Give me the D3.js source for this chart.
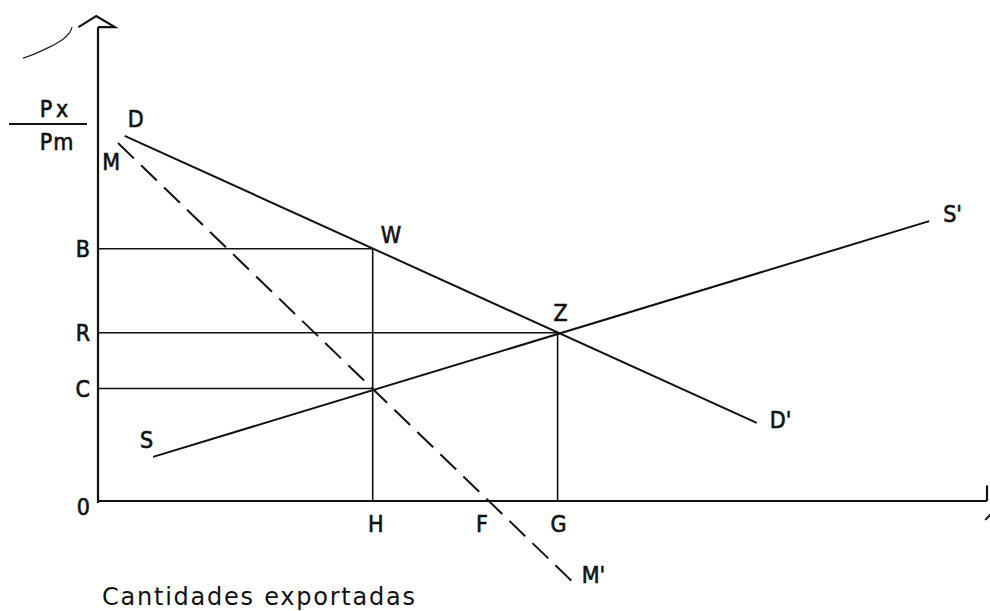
<!DOCTYPE html>
<html>
<head>
<meta charset="utf-8">
<script src="https://cdn.jsdelivr.net/npm/d3@7"></script>
<style>
  body { margin: 0; background: #fff; }
  .lbl { font-family: "DejaVu Sans Condensed", "DejaVu Sans", sans-serif; font-stretch: condensed; font-size: 23px; fill: #111; stroke: #111; stroke-width: 0.6px; }
</style>
</head>
<body>
<div id="chart"></div>
<script>
// curves (x = cantidades 0-100, y = Px/Pm 0-100)
const demand = [[3.0, 75.3], [74.1, 16.1]]; // D -> D'
const supply = [[6.2, 9.1], [93.5, 57.7]]; // S -> S'
const shifted = [[2.25, 73.8], [53.4, -16.7]]; // M -> M' (dashed)

// price levels on the vertical axis
const priceNames = ["B", "R", "C", "0"];
const priceValues = [52.0, 34.7, 23.2, 0];

// quantity levels on the horizontal axis
const qtyNames = ["H", "F", "G"];
const qtyValues = [30.9, 44.1, 51.7];

// hand drawn bits near the axes
const squiggle = [[-8.44, 91.3], [-7.31, 92.0], [-5.4, 93.6], [-3.94, 95.05], [-3.15, 96.5], [-2.92, 97.7]];

const width = 990,
  height = 611;

const svg = d3
  .select("#chart")
  .append("svg")
  .attr("width", width)
  .attr("height", height);

const x = d3.scaleLinear().domain([0, 100]).range([98, 987]);
const y = d3.scaleLinear().domain([0, 100]).range([501, 16]);

const line = d3
  .line()
  .x((d) => x(d[0]))
  .y((d) => y(d[1]));

// axes
svg
  .append("line")
  .attr("x1", x(0))
  .attr("x2", x(0))
  .attr("y1", y(97.7))
  .attr("y2", y(-0.4))
  .attr("stroke", "#111")
  .attr("stroke-width", 2.2);
svg
  .append("line")
  .attr("x1", x(0))
  .attr("x2", x(100))
  .attr("y1", y(0))
  .attr("y2", y(0))
  .attr("stroke", "#111")
  .attr("stroke-width", 2.2);

// arrow heads
svg
  .append("path")
  .attr("d", line([[-2.2, 97.7], [-0.2, 100], [1.9, 97.7], [0, 97.7]]))
  .attr("fill", "none")
  .attr("stroke", "#111")
  .attr("stroke-width", 2.2);
svg
  .append("path")
  .attr("d", line([[100, 0], [100, 3.2]]))
  .attr("fill", "none")
  .attr("stroke", "#111")
  .attr("stroke-width", 2.2);
svg
  .append("path")
  .attr("d", line([[99.8, -3.9], [100.6, -2.4]]))
  .attr("fill", "none")
  .attr("stroke", "#111")
  .attr("stroke-width", 2);

svg
  .append("path")
  .attr("d", d3.line().x((d) => x(d[0])).y((d) => y(d[1])).curve(d3.curveBasis)(squiggle))
  .attr("fill", "none")
  .attr("stroke", "#222")
  .attr("stroke-width", 1.3);

// guide lines: price level across to the curve, quantity level down to the axis
const guides = [
  [qtyValues[0], priceValues[0]],
  [qtyValues[2], priceValues[1]],
  [qtyValues[0], priceValues[2]],
];
svg
  .append("g")
  .selectAll("line.h")
  .data(guides)
  .join("line")
  .attr("x1", x(0))
  .attr("x2", (d) => x(d[0]))
  .attr("y1", (d) => y(d[1]))
  .attr("y2", (d) => y(d[1]))
  .attr("stroke", "#111")
  .attr("stroke-width", 1.6);
svg
  .append("g")
  .selectAll("line.v")
  .data([guides[0], guides[1]])
  .join("line")
  .attr("x1", (d) => x(d[0]))
  .attr("x2", (d) => x(d[0]))
  .attr("y1", (d) => y(d[1]))
  .attr("y2", y(0))
  .attr("stroke", "#111")
  .attr("stroke-width", 1.6);

// curves
svg
  .append("path")
  .attr("d", line(demand))
  .attr("fill", "none")
  .attr("stroke", "#111")
  .attr("stroke-width", 2);
svg
  .append("path")
  .attr("d", line(supply))
  .attr("fill", "none")
  .attr("stroke", "#111")
  .attr("stroke-width", 2);
svg
  .append("path")
  .attr("d", line(shifted))
  .attr("fill", "none")
  .attr("stroke", "#111")
  .attr("stroke-width", 2)
  .attr("stroke-dasharray", "22,10");

// curve end labels
const ends = [
  { t: "D", p: demand[0], dx: 3, dy: -9, a: "start" },
  { t: "D'", p: demand[1], dx: 13, dy: 5, a: "start" },
  { t: "S", p: supply[0], dx: 0, dy: -9, a: "end" },
  { t: "S'", p: supply[1], dx: 14, dy: 1, a: "start" },
  { t: "M", p: shifted[0], dx: 2, dy: 27, a: "end" },
  { t: "M'", p: shifted[1], dx: 9, dy: 1, a: "start" },
  { t: "W", p: guides[0], dx: 8, dy: -6, a: "start" },
  { t: "Z", p: guides[1], dx: -4, dy: -12, a: "start" },
];
svg
  .append("g")
  .selectAll("text")
  .data(ends)
  .join("text")
  .attr("class", "lbl")
  .attr("x", (d) => x(d.p[0]) + d.dx)
  .attr("y", (d) => y(d.p[1]) + d.dy)
  .attr("text-anchor", (d) => d.a)
  .text((d) => d.t);

// vertical axis letters
svg
  .append("g")
  .selectAll("text")
  .data(priceValues)
  .join("text")
  .attr("class", "lbl")
  .attr("x", x(0) - 8)
  .attr("y", (d, i) => y(d) + (i === 3 ? 14 : 8.5))
  .attr("text-anchor", "end")
  .text((d, i) => priceNames[i]);

// horizontal axis letters
const qtyShift = [3, -8, 1];
svg
  .append("g")
  .selectAll("text")
  .data(qtyValues)
  .join("text")
  .attr("class", "lbl")
  .attr("x", (d, i) => x(d) + qtyShift[i])
  .attr("y", y(0) + 31)
  .attr("text-anchor", "middle")
  .text((d, i) => qtyNames[i]);

// axis titles
svg
  .append("text")
  .attr("class", "lbl")
  .attr("x", 56)
  .attr("y", 117)
  .attr("text-anchor", "middle")
  .attr("letter-spacing", 4)
  .text("Px");
svg
  .append("line")
  .attr("x1", 9)
  .attr("x2", 87)
  .attr("y1", 124)
  .attr("y2", 124)
  .attr("stroke", "#111")
  .attr("stroke-width", 2);
svg
  .append("text")
  .attr("class", "lbl")
  .attr("x", 57)
  .attr("y", 150)
  .attr("text-anchor", "middle")
  .attr("letter-spacing", 1)
  .text("Pm");

svg
  .append("text")
  .attr("x", 102)
  .attr("y", 605)
  .attr("textLength", 313)
  .attr("lengthAdjust", "spacing")
  .style("font-family", "DejaVu Sans, sans-serif")
  .style("font-size", "24px")
  .style("fill", "#111")
  .text("Cantidades exportadas");
</script>
</body>
</html>
